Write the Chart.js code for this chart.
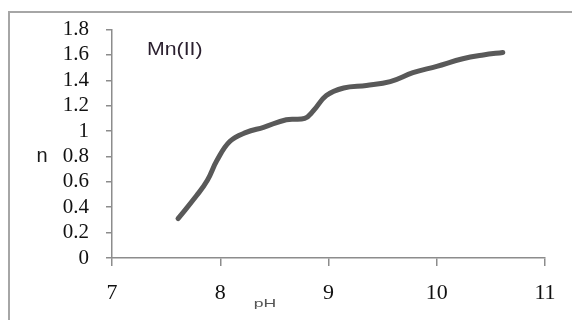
<!DOCTYPE html>
<html>
<head>
<meta charset="utf-8">
<script src="https://cdn.jsdelivr.net/npm/chart.js@4"></script>
<style>
  html, body { margin: 0; padding: 0; background: #fff; }
  #wrap { width: 572px; height: 320px; position: relative; }
</style>
</head>
<body>
<div id="wrap"><canvas id="c" width="572" height="320"></canvas></div>
<script>
// Data
const pH = [7.61, 7.78, 7.88, 7.97, 8.09, 8.24, 8.40, 8.61, 8.78, 8.86, 8.98, 9.14, 9.35, 9.57, 9.78, 10.0, 10.24, 10.43, 10.61];
const nValues = [0.31, 0.49, 0.61, 0.77, 0.92, 0.99, 1.03, 1.09, 1.10, 1.16, 1.28, 1.34, 1.36, 1.39, 1.46, 1.51, 1.57, 1.60, 1.62];
const xTicks = [7, 8, 9, 10, 11];
const yTicks = [0, 0.2, 0.4, 0.6, 0.8, 1, 1.2, 1.4, 1.6, 1.8];
const seriesLabel = 'Mn(II)';
const xTitle = 'pH';
const yTitle = 'n';

const points = pH.map((x, i) => ({ x: x, y: nValues[i] }));

const decor = {
  id: 'decor',
  beforeDraw(chart) {
    const ctx = chart.ctx;
    ctx.save();
    ctx.fillStyle = '#fff';
    ctx.fillRect(0, 0, chart.width, chart.height);
    ctx.strokeStyle = '#a6a6a6';
    ctx.lineWidth = 2;
    ctx.strokeRect(9, 12, 700, 500);
    ctx.restore();
  },
  afterDraw(chart) {
    const ctx = chart.ctx;
    ctx.save();
    ctx.fillStyle = '#1a1a1a';
    ctx.font = '20px "Liberation Sans", Arial, sans-serif';
    ctx.textAlign = 'center';
    ctx.textBaseline = 'middle';
    ctx.fillText(yTitle, 42, 156);
    ctx.save();
    ctx.translate(147, 50);
    ctx.scale(1.12, 1);
    ctx.textAlign = 'left';
    ctx.font = '19px "Liberation Sans", Arial, sans-serif';
    ctx.fillStyle = '#2a1f2e';
    ctx.fillText(seriesLabel, 0, 0);
    ctx.restore();
    ctx.save();
    ctx.translate(265, 304);
    ctx.scale(1.6, 1);
    ctx.textAlign = 'center';
    ctx.font = '11px "Liberation Sans", Arial, sans-serif';
    ctx.fillStyle = '#555';
    ctx.fillText(xTitle, 0, 0);
    ctx.restore();
    ctx.restore();
  }
};

const fmt = v => String(Number(Number(v).toFixed(1)));

new Chart(document.getElementById('c'), {
  type: 'line',
  data: {
    datasets: [{
      label: seriesLabel,
      data: points,
      borderColor: '#595959',
      borderWidth: 5,
      borderCapStyle: 'round',
      borderJoinStyle: 'round',
      pointRadius: 0,
      fill: false,
      tension: 0.4
    }]
  },
  options: {
    responsive: false,
    animation: false,
    devicePixelRatio: 1,
    layout: { padding: { left: 0, right: 27, top: 23, bottom: 0 } },
    plugins: { legend: { display: false }, tooltip: { enabled: false } },
    scales: {
      x: {
        type: 'linear',
        min: xTicks[0],
        max: xTicks[xTicks.length - 1],
        afterBuildTicks: s => { s.ticks = xTicks.map(v => ({ value: v })); },
        afterFit: s => { s.height = 62; },
        grid: { drawOnChartArea: false, drawTicks: true, tickLength: 8, color: '#8c8c8c', lineWidth: 1.5 },
        border: { color: '#8c8c8c', width: 1.5 },
        ticks: {
          autoSkip: false,
          color: '#111',
          padding: 14,
          maxRotation: 0,
          font: { family: 'Liberation Serif', size: 22 },
          callback: v => fmt(v)
        }
      },
      y: {
        type: 'linear',
        min: yTicks[0],
        max: yTicks[yTicks.length - 1],
        afterBuildTicks: s => { s.ticks = yTicks.map(v => ({ value: v })); },
        afterFit: s => { s.width = 112; },
        grid: { drawOnChartArea: false, drawTicks: true, tickLength: 6, color: '#8c8c8c', lineWidth: 1.5 },
        border: { color: '#8c8c8c', width: 1.5 },
        ticks: {
          autoSkip: false,
          color: '#111',
          padding: 17,
          font: { family: 'Liberation Serif', size: 21 },
          callback: v => fmt(v)
        }
      }
    }
  },
  plugins: [decor]
});
</script>
</body>
</html>
